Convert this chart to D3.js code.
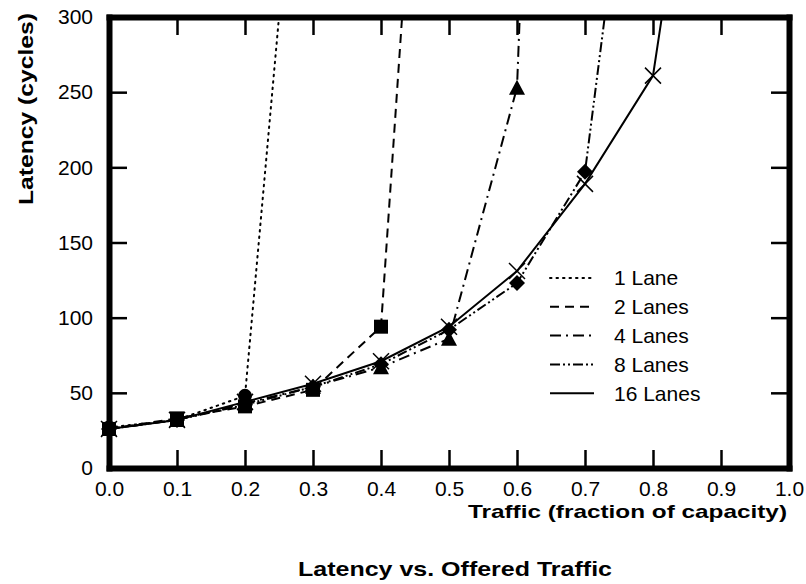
<!DOCTYPE html>
<html>
<head>
<meta charset="utf-8">
<script src="https://cdn.jsdelivr.net/npm/d3@7"></script>
<style>
  body { margin: 0; background: #fff; }
  svg { font-family: "Liberation Sans", Arial, sans-serif; }
</style>
</head>
<body>
<svg id="chart" width="806" height="584"></svg>
<script>
// traffic values (fraction of capacity)
const traffic = [0.0, 0.1, 0.2, 0.3, 0.4, 0.5, 0.6, 0.7, 0.8, 0.9];

// latency in cycles per lane count (points beyond 300 run off the top)
const lane1  = [27, 32, 48, 552];
const lane2  = [26, 33, 41, 52, 94, 758];
const lane4  = [26, 32, 43, 54, 67, 86, 253, 1430];
const lane8  = [26, 32, 42, 54, 69, 92, 123, 197, 552];
const lane16 = [26, 32, 44, 56, 71, 94, 131, 189, 261, 560];

const seriesNames = ["1 Lane", "2 Lanes", "4 Lanes", "8 Lanes", "16 Lanes"];
const xTicks = [0, 0.1, 0.2, 0.3, 0.4, 0.5, 0.6, 0.7, 0.8, 0.9, 1.0];
const yTicks = [0, 50, 100, 150, 200, 250, 300];

const series = [
  { name: seriesNames[0], values: lane1,  dash: "1.5,5",         marker: "circle" },
  { name: seriesNames[1], values: lane2,  dash: "9,6",           marker: "square" },
  { name: seriesNames[2], values: lane4,  dash: "11,5,2,5",      marker: "triangle" },
  { name: seriesNames[3], values: lane8,  dash: "10,3,2,3,2,3",  marker: "diamond" },
  { name: seriesNames[4], values: lane16, dash: null,            marker: "cross" }
];

const margin = { top: 17, right: 17, bottom: 116, left: 109 },
      width = 806 - margin.left - margin.right,
      height = 584 - margin.top - margin.bottom;

const svg = d3.select("#chart");
const g = svg.append("g").attr("transform", `translate(${margin.left},${margin.top})`);

const x = d3.scaleLinear().domain([0, 1]).range([0, width]);
const y = d3.scaleLinear().domain([0, 300]).range([height, 0]);

g.append("clipPath").attr("id", "clip")
  .append("rect").attr("x", -10).attr("y", 0).attr("width", width + 20).attr("height", height + 10);

// lines
const line = d3.line()
  .x((d, i) => x(traffic[i]))
  .y(d => y(d));

const plot = g.append("g").attr("clip-path", "url(#clip)");

series.forEach(s => {
  plot.append("path")
    .datum(s.values)
    .attr("fill", "none")
    .attr("stroke", "#000")
    .attr("stroke-width", 2)
    .attr("stroke-linecap", s.marker === "circle" ? "round" : "butt")
    .attr("stroke-dasharray", s.dash)
    .attr("d", line);
});

// markers
function drawMarker(sel, type, size) {
  const h = size / 2;
  if (type === "circle") {
    sel.append("circle").attr("r", h).attr("fill", "#000");
  } else if (type === "square") {
    sel.append("rect").attr("x", -h).attr("y", -h).attr("width", size).attr("height", size).attr("fill", "#000");
  } else if (type === "triangle") {
    sel.append("path").attr("d", `M0,${-h - 1}L${h + 1},${h}L${-h - 1},${h}Z`).attr("fill", "#000");
  } else if (type === "diamond") {
    sel.append("path").attr("d", `M0,${-h - 1}L${h + 1},0L0,${h + 1}L${-h - 1},0Z`).attr("fill", "#000");
  } else if (type === "cross") {
    sel.append("path").attr("d", `M${-h},${-h}L${h},${h}M${-h},${h}L${h},${-h}`)
      .attr("stroke", "#000").attr("stroke-width", 1.5).attr("fill", "none");
  }
}

series.forEach(s => {
  s.values.forEach((v, i) => {
    if (v > 300) return;
    const m = plot.append("g").attr("transform", `translate(${x(traffic[i])},${y(v)})`);
    drawMarker(m, s.marker, s.marker === "cross" ? 16 : 14);
  });
});

// axes: ticks point inward on all four sides
const tickLen = 18;
const xAxis = g.append("g")
  .attr("transform", `translate(0,${height})`)
  .call(d3.axisBottom(x).tickValues(xTicks).tickFormat(d3.format(".1f"))
    .tickSizeInner(-tickLen).tickSizeOuter(0).tickPadding(13));
const xTop = g.append("g")
  .call(d3.axisTop(x).tickValues(xTicks).tickFormat("").tickSizeInner(-tickLen).tickSizeOuter(0));
const yAxis = g.append("g")
  .call(d3.axisLeft(y).tickValues(yTicks).tickFormat(d3.format("d"))
    .tickSizeInner(-tickLen).tickSizeOuter(0).tickPadding(16));
const yRight = g.append("g")
  .attr("transform", `translate(${width},0)`)
  .call(d3.axisRight(y).tickValues(yTicks).tickFormat("").tickSizeInner(-tickLen).tickSizeOuter(0));

[xAxis, xTop, yAxis, yRight].forEach(a => {
  a.select(".domain").attr("stroke-width", 6).attr("stroke-linecap", "square");
  a.selectAll(".tick line").attr("stroke-width", 2.5);
  a.selectAll("text").attr("font-size", 21).attr("fill", "#000")
    .attr("font-family", "'Liberation Sans', Arial, sans-serif");
});
xAxis.selectAll("text").attr("dy", "0.71em");

// axis titles (the scan is stretched sideways, so fit them to their width)
svg.append("text")
  .attr("x", 468)
  .attr("y", 518)
  .attr("font-size", 19)
  .attr("font-weight", "bold")
  .attr("textLength", 319)
  .attr("lengthAdjust", "spacingAndGlyphs")
  .text("Traffic (fraction of capacity)");

svg.append("text")
  .attr("transform", "translate(33,205) rotate(-90)")
  .attr("font-size", 21)
  .attr("font-weight", "bold")
  .attr("textLength", 192)
  .attr("lengthAdjust", "spacingAndGlyphs")
  .text("Latency (cycles)");

svg.append("text")
  .attr("x", 298)
  .attr("y", 576)
  .attr("font-size", 21)
  .attr("font-weight", "bold")
  .attr("textLength", 314)
  .attr("lengthAdjust", "spacingAndGlyphs")
  .text("Latency vs. Offered Traffic");

// legend
const legend = svg.append("g").attr("transform", "translate(550,278)");
series.forEach((s, i) => {
  const row = legend.append("g").attr("transform", `translate(0,${i * 28.8})`);
  row.append("line")
    .attr("x1", 0).attr("x2", 44).attr("y1", 0).attr("y2", 0)
    .attr("stroke", "#000").attr("stroke-width", 2)
    .attr("stroke-linecap", s.marker === "circle" ? "round" : "butt")
    .attr("stroke-dasharray", s.dash);
  row.append("text")
    .attr("x", 64).attr("y", 0).attr("dy", "0.35em")
    .attr("font-size", 21)
    .text(s.name);
});
</script>
</body>
</html>
